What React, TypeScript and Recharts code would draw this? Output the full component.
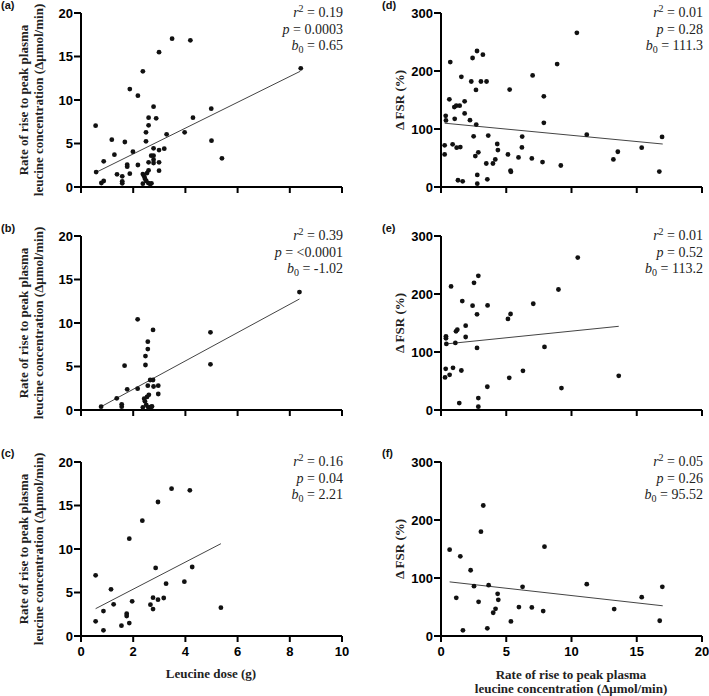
import { ScatterChart, Scatter, XAxis, YAxis, ReferenceLine } from 'recharts';

// Panel (a): leucine dose vs rate of rise, all studies
const aDose = [0.56, 0.58, 0.78, 0.87, 0.87, 1.18, 1.28, 1.38, 1.58, 1.58, 1.58, 1.68, 1.77, 1.77, 1.87, 1.87, 1.99, 2.18, 2.18, 2.37,
  2.37, 2.37, 2.42, 2.45, 2.5, 2.53, 2.58, 2.59, 2.65, 2.7,
  2.49, 2.49, 2.59, 2.59, 2.59, 2.69, 2.78, 2.78, 2.78, 2.78, 2.78, 2.88, 2.99, 2.99, 2.99, 2.99, 3.19, 3.28, 3.49, 3.97, 4.19, 4.29, 4.99, 5.0, 5.4, 8.42];
const aRate = [7.05, 1.72, 0.46, 0.69, 2.95, 5.44, 3.72, 1.46, 1.23, 0.65, 0.42, 5.17, 2.57, 2.34, 11.26, 1.53, 4.06, 10.5, 2.53, 13.3,
  1.49, 0.38, 1.25, 0.95, 0.7, 1.6, 0.45, 1.92, 0.35, 0.42,
  6.28, 5.25, 7.97, 7.09, 2.84, 3.6, 9.23, 4.44, 3.6, 3.14, 2.76, 7.89, 15.5, 4.25, 2.84, 1.88, 4.41, 6.05, 17.05, 6.28, 16.86, 7.97, 9.0, 5.33, 3.3, 13.64];
const aFit = [[0.58, 1.69], [8.4, 13.3]];

// Panel (b)
const bDose = [0.77, 1.37, 1.56, 1.56, 1.67, 1.77, 2.17, 2.17,
  2.37, 2.42, 2.45, 2.5, 2.53, 2.58, 2.6, 2.68, 2.72,
  2.47, 2.47, 2.56, 2.56, 2.56, 2.65, 2.76, 2.76, 2.78, 2.96, 2.96, 4.96, 4.96, 8.37];
const bRate = [0.38, 1.34, 0.65, 0.38, 5.1, 2.38, 10.42, 2.45,
  0.31, 1.3, 1.0, 0.6, 1.5, 0.3, 1.75, 0.35, 0.4,
  6.2, 5.17, 7.85, 7.0, 2.8, 3.45, 3.45, 9.2, 2.7, 2.8, 1.84, 8.93, 5.25, 13.56];
const bFit = [[0.77, 0.38], [8.37, 12.76]];

// Panel (c)
const cDose = [0.56, 0.56, 0.86, 0.86, 1.15, 1.25, 1.55, 1.75, 1.75, 1.85, 1.85, 1.96, 2.35, 2.66, 2.76, 2.76, 2.86, 2.95, 2.95, 3.17, 3.26, 3.47, 3.96, 4.17, 4.26, 5.36];
const cRate = [6.97, 1.69, 2.87, 0.65, 5.36, 3.64, 1.19, 2.57, 2.3, 11.19, 1.49, 3.98, 13.26, 3.6, 4.41, 3.1, 7.82, 15.4, 4.18, 4.37, 6.02, 16.93, 6.25, 16.74, 7.93, 3.26];
const cFit = [[0.56, 3.14], [5.36, 10.61]];

// Panel (d): rate of rise vs change in FSR
const dRate = [0.28, 0.28, 0.36, 0.38, 0.64, 0.71, 0.89, 1.02, 1.05, 1.17, 1.2, 1.3, 1.43, 1.48, 1.56, 1.66, 1.81, 1.81, 2.22, 2.32, 2.42, 2.5, 2.63, 2.68, 2.7, 2.76, 2.78, 2.78, 2.86, 3.06,
  3.21, 3.47, 3.49, 3.55, 3.62, 3.98, 4.16, 4.31, 4.36, 5.13, 5.26, 5.33, 5.36, 5.94, 6.2, 6.22, 6.96, 7.02, 7.78, 7.88, 7.88, 8.9, 9.18, 10.41, 11.17, 13.21, 13.55, 15.38, 16.73, 16.94];
const dFsr = [71.8, 56.2, 122.8, 114.7, 151.2, 215.4, 73.6, 137.8, 117.6, 140.2, 67.8, 11.6, 140.2, 68.9, 190, 9.8, 147.7, 126.8, 115.2, 181.9, 222.4, 87.4, 53.3, 167.4, 107.7, 234.5, 20.8, 5.8, 59.7, 181.9,
  228.2, 40.5, 181.9, 13.3, 88.6, 40.5, 47.5, 74.1, 63.7, 56.2, 168, 28.4, 26.1, 51, 68.3, 86.9, 49.2, 192.3, 42.9, 156.4, 110.6, 212, 37.1, 265.8, 90.3, 47.5, 60.8, 67.8, 26.6, 86.3];
const dFit = [[0.28, 110], [16.99, 74.1]];

// Panel (e)
const eRate = [0.31, 0.36, 0.38, 0.38, 0.41, 0.66, 0.77, 0.92, 1.1, 1.15, 1.25, 1.4, 1.56, 1.63, 1.89, 1.89, 2.42, 2.53, 2.76, 2.76, 2.86, 2.86, 2.86, 3.55, 3.57, 5.13, 5.23, 5.33, 6.28, 7.07, 7.93, 9.0, 9.23, 10.48, 13.62];
const eFsr = [56.1, 71, 127.1, 123.7, 113.9, 60.7, 213, 72.7, 115.6, 135.7, 138.5, 12, 68.1, 187.8, 145.4, 125.9, 179.8, 219.3, 164.9, 107, 231.3, 20.6, 5.7, 40.1, 180.3, 157.1, 55.5, 165.5, 67.6, 183.2, 108.8, 207.8, 37.8, 262.8, 59];
const eFit = [[0.38, 113.9], [13.62, 144.3]];

// Panel (f)
const fRate = [0.66, 1.17, 1.48, 1.68, 2.27, 2.53, 2.88, 3.06, 3.24, 3.55, 3.65, 4.0, 4.18, 4.34, 4.39, 5.36, 5.97, 6.25, 6.96, 7.83, 7.93, 11.17, 13.27, 15.38, 16.76, 16.96];
const fFsr = [148.9, 65.8, 137.4, 9.7, 113.4, 85.9, 59, 179.8, 225, 13.2, 87.6, 40.1, 46.9, 72.7, 62.4, 25.2, 49.8, 84.7, 49.2, 42.9, 154, 89.3, 46.4, 67, 26.3, 84.7];
const fFit = [[0.66, 93.3], [16.99, 52.1]];

const doseTicks = [0, 2, 4, 6, 8, 10];
const rateTicks = [0, 5, 10, 15, 20];
const fsrTicks = [0, 100, 200, 300];

const SERIF = '"Liberation Serif", "Times New Roman", serif';
const SANS = '"Liberation Sans", Arial, sans-serif';

const toPoints = (xs: number[], ys: number[]) => xs.map((x, i) => ({ x, y: ys[i] }));

const Dot = (props: any) => <circle cx={props.cx} cy={props.cy} r={2.4} fill="#111" />;

interface PanelProps {
  left: number;
  top: number;
  xs: number[];
  ys: number[];
  fit: number[][];
  xTicks: number[];
  yTicks: number[];
  showX: boolean;
  r2: string;
  p: string;
  b0: string;
}

function Panel({ left, top, xs, ys, fit, xTicks, yTicks, showX, r2, p, b0 }: PanelProps) {
  const w = 261;
  const h = 174;
  const ml = 45;
  const mt = 10;
  const mb = 30;
  const mr = 10;
  const axisStyle = { stroke: '#000', strokeWidth: 2 };
  const tickStyle = { fill: '#000', fontSize: 13, fontWeight: 700, fontFamily: SANS };
  return (
    <>
      <div style={{ position: 'absolute', left: left - ml, top: top - mt }}>
        <ScatterChart width={w + ml + mr} height={h + mt + mb} margin={{ top: mt, right: mr, bottom: 0, left: 0 }}>
          <XAxis
            type="number"
            dataKey="x"
            domain={[0, xTicks[xTicks.length - 1]]}
            ticks={xTicks}
            height={mb}
            axisLine={axisStyle}
            tickLine={axisStyle}
            tickSize={6}
            tickMargin={5}
            tick={tickStyle}
            tickFormatter={(v: number) => (showX ? String(v) : '')}
          />
          <YAxis
            type="number"
            dataKey="y"
            domain={[0, yTicks[yTicks.length - 1]]}
            ticks={yTicks}
            width={ml}
            axisLine={axisStyle}
            tickLine={axisStyle}
            tickSize={7}
            tickMargin={1}
            tick={tickStyle}
          />
          <ReferenceLine
            segment={[{ x: fit[0][0], y: fit[0][1] }, { x: fit[1][0], y: fit[1][1] }]}
            stroke="#444"
            strokeWidth={1}
          />
          <Scatter data={toPoints(xs, ys)} shape={Dot} isAnimationActive={false} />
        </ScatterChart>
      </div>
      {/* regression stats, top right of plot */}
      <div
        style={{
          position: 'absolute',
          left: left,
          width: w + 1,
          top: top - 8.5,
          textAlign: 'right',
          fontFamily: SERIF,
          fontSize: 14,
          lineHeight: '16px',
          color: '#222',
        }}
      >
        <div>
          <i>r</i>
          <span style={{ position: 'relative', top: -5, fontSize: 10 }}>2</span> = {r2}
        </div>
        <div>
          <i>p</i> = {p}
        </div>
        <div>
          <i>b</i>
          <span style={{ position: 'relative', top: 3, fontSize: 10 }}>0</span> = {b0}
        </div>
      </div>
    </>
  );
}

function RateTitle({ cx, cy }: { cx: number; cy: number }) {
  return (
    <div
      style={{
        position: 'absolute',
        left: cx,
        top: cy,
        transform: 'translate(-50%, -50%) rotate(-90deg)',
        whiteSpace: 'nowrap',
        textAlign: 'center',
        fontFamily: SERIF,
        fontWeight: 700,
        fontSize: 13,
        lineHeight: '15px',
        color: '#222',
      }}
    >
      <div>Rate of rise to peak plasma</div>
      <div>leucine concentration (Δμmol/min)</div>
    </div>
  );
}

function FsrTitle({ cx, cy }: { cx: number; cy: number }) {
  return (
    <div
      style={{
        position: 'absolute',
        left: cx,
        top: cy,
        transform: 'translate(-50%, -50%) rotate(-90deg)',
        whiteSpace: 'nowrap',
        fontFamily: SERIF,
        fontWeight: 700,
        fontSize: 13,
        color: '#222',
      }}
    >
      Δ FSR (%)
    </div>
  );
}

function PanelTag({ x, y, label }: { x: number; y: number; label: string }) {
  return (
    <div style={{ position: 'absolute', left: x, top: y - 7, fontFamily: SANS, fontWeight: 700, fontSize: 11, color: '#111' }}>
      {label}
    </div>
  );
}

export default function App() {
  return (
    <div style={{ position: 'absolute', left: 0, top: 0, width: 709, height: 696, background: '#fff' }}>
      <PanelTag x={1} y={6} label="(a)" />
      <PanelTag x={1} y={229} label="(b)" />
      <PanelTag x={1} y={454} label="(c)" />
      <PanelTag x={382} y={6} label="(d)" />
      <PanelTag x={382} y={229} label="(e)" />
      <PanelTag x={382} y={454} label="(f)" />

      <RateTitle cx={31} cy={100} />
      <RateTitle cx={31} cy={323} />
      <RateTitle cx={31} cy={549} />
      <FsrTitle cx={400} cy={100} />
      <FsrTitle cx={400} cy={323} />
      <FsrTitle cx={400} cy={549} />

      <Panel left={81} top={13} xs={aDose} ys={aRate} fit={aFit} xTicks={doseTicks} yTicks={rateTicks} showX={false} r2="0.19" p="0.0003" b0="0.65" />
      <Panel left={81} top={236} xs={bDose} ys={bRate} fit={bFit} xTicks={doseTicks} yTicks={rateTicks} showX={false} r2="0.39" p="<0.0001" b0="-1.02" />
      <Panel left={81} top={462} xs={cDose} ys={cRate} fit={cFit} xTicks={doseTicks} yTicks={rateTicks} showX={true} r2="0.16" p="0.04" b0="2.21" />
      <Panel left={441} top={13} xs={dRate} ys={dFsr} fit={dFit} xTicks={rateTicks} yTicks={fsrTicks} showX={false} r2="0.01" p="0.28" b0="111.3" />
      <Panel left={441} top={236} xs={eRate} ys={eFsr} fit={eFit} xTicks={rateTicks} yTicks={fsrTicks} showX={false} r2="0.01" p="0.52" b0="113.2" />
      <Panel left={441} top={462} xs={fRate} ys={fFsr} fit={fFit} xTicks={rateTicks} yTicks={fsrTicks} showX={true} r2="0.05" p="0.26" b0="95.52" />

      <div style={{ position: 'absolute', left: 211, top: 674, transform: 'translate(-50%, -50%)', whiteSpace: 'nowrap', fontFamily: SERIF, fontWeight: 700, fontSize: 13, color: '#222' }}>
        Leucine dose (g)
      </div>
      <div style={{ position: 'absolute', left: 571, top: 682, transform: 'translate(-50%, -50%)', whiteSpace: 'nowrap', textAlign: 'center', fontFamily: SERIF, fontWeight: 700, fontSize: 13, lineHeight: '14px', color: '#222' }}>
        <div>Rate of rise to peak plasma</div>
        <div>leucine concentration (Δμmol/min)</div>
      </div>
    </div>
  );
}
